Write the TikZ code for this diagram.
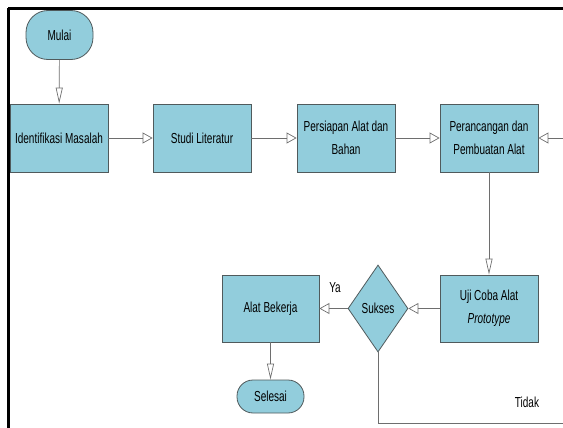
\documentclass[tikz,border=0pt]{standalone}
\usepackage{fontspec}
\setmainfont{Liberation Sans}[FakeStretch=0.69]
\usepackage{xcolor}
\usetikzlibrary{arrows.meta,shapes.geometric}

\definecolor{kotak}{RGB}{146,205,220}
\definecolor{garis}{RGB}{110,110,110}
\definecolor{tepi}{RGB}{80,90,92}

\tikzset{
  proses/.style={rectangle,draw=tepi,fill=kotak,line width=0.8pt,minimum width=98pt,minimum height=68pt,align=center,inner sep=2pt},
  terminal/.style={rectangle,rounded corners=22pt,draw=tepi,fill=kotak,line width=0.8pt,minimum width=67pt,minimum height=49pt},
  keputusan/.style={diamond,draw=tepi,fill=kotak,line width=0.8pt,minimum width=60pt,minimum height=87pt,inner sep=0pt},
  alur/.style={draw=garis,line width=0.7pt},
  hpanah/.style={-{Triangle[open,length=10pt,width=11pt]}},
  vpanah/.style={-{Triangle[open,length=16pt,width=7pt]}},
  teks/.style={font=\fontsize{14.5}{22.5}\selectfont}
}

\begin{document}
\begin{tikzpicture}[x=1pt,y=-1pt,every node/.style={teks}]
\useasboundingbox (0,0) rectangle (563,428);
\clip (0,0) rectangle (563,428);

% Frame
\draw[line width=2.6pt] (8,8.7) -- (563,8.7);
\draw[line width=2.6pt] (8.5,8) -- (8.5,428);

% Start
\node[terminal] (mulai) at (59.5,35) {Mulai};

% Top row
\foreach \n/\x/\l in {identifikasi/59/{Identifikasi Masalah},studi/202/{Studi Literatur},persiapan/346/{Persiapan Alat dan\\Bahan},perancangan/489/{Perancangan dan\\Pembuatan Alat}}
  \node[proses] (\n) at (\x,138) {\l};

% Bottom row
\node[proses,minimum height=67pt] (uji) at (489,308.5) {Uji Coba Alat\\\textit{Prototype}};
\node[keputusan] (sukses) at (378,308.5) {Sukses};
\node[proses,minimum width=97pt,minimum height=67pt] (bekerja) at (270.5,308.5) {Alat Bekerja};
\node[terminal,minimum height=33pt,rounded corners=16pt] (selesai) at (270.5,396.5) {Selesai};
\coordinate (ulang) at (580,423);

% Flows
\draw[alur,vpanah] (mulai) -- (identifikasi);
\foreach \a/\b in {identifikasi/studi,studi/persiapan,persiapan/perancangan}
  \draw[alur,hpanah] (\a) -- (\b);
\draw[alur,vpanah] (perancangan) -- (uji);
\draw[alur,hpanah] (uji) -- (sukses);
\draw[alur,hpanah] (sukses) -- (bekerja);
\draw[alur,vpanah] (bekerja) -- (selesai);
\draw[alur,hpanah] (sukses.south) |- (ulang) |- (perancangan.east);

% Labels
\node (ya) at (335,288) {Ya};
\node (tidak) at (527,402) {Tidak};
\end{tikzpicture}
\end{document}
